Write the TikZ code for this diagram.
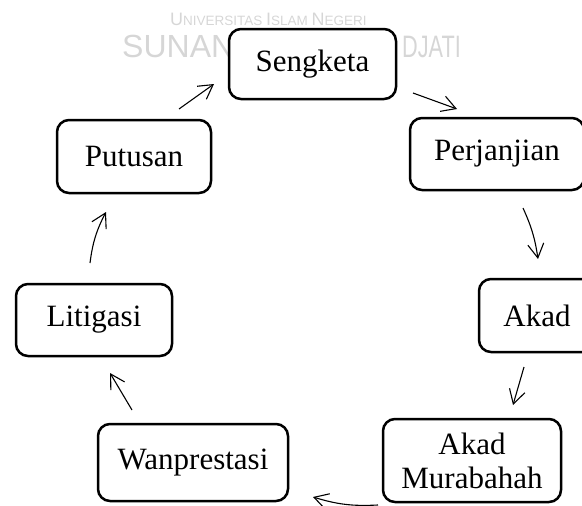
\documentclass[tikz,border=0pt]{standalone}
\usepackage{fontspec}
\setmainfont{Liberation Serif}
\newfontfamily\wmfont{Liberation Sans}
\usetikzlibrary{arrows.meta}
\begin{document}
\begin{tikzpicture}[x=1pt,y=-1pt,
  box/.style={draw, line width=2.5pt, rounded corners=12pt, fill=white, align=center,
    inner sep=0pt, font=\fontsize{31}{34}\selectfont},
  conn/.style={line width=1.1pt, -{Straight Barb[length=14pt,width=16pt,line width=1.1pt]}},
  wm/.style={text=gray!32, inner sep=0pt}]
\useasboundingbox (0,0) rectangle (582,506);
\clip (0,0) rectangle (582,506);
% watermark
\node[wm, anchor=base west] (wm1) at (170,25) {\wmfont\fontsize{18}{18}\selectfont U\fontsize{13.5}{13.5}\selectfont NIVERSITAS
  \fontsize{18}{18}\selectfont I\fontsize{13.5}{13.5}\selectfont SLAM
  \fontsize{18}{18}\selectfont N\fontsize{13.5}{13.5}\selectfont EGERI};
\node[wm, anchor=base west] (wm2) at (122,57) {\wmfont\fontsize{32}{32}\selectfont SUNAN};
\node[wm, anchor=base east] (wm3) at (461,57) {\wmfont\fontsize{31}{31}\selectfont\scalebox{0.7}[1]{DJATI}};
% boxes
\node[box, minimum width=167pt, minimum height=70pt] (sengketa) at (312.5,64) {Sengketa};
\node[box, minimum width=174pt, minimum height=72pt] (perjanjian) at (497,154) {Perjanjian};
\node[box, minimum width=116pt, minimum height=73pt] (akad) at (537,315.5) {Akad};
\node[box, minimum width=178pt, minimum height=83pt] (murabahah) at (472,460.5) {Akad\\Murabahah};
\node[box, minimum width=190pt, minimum height=77pt] (wanprestasi) at (193,462.5) {Wanprestasi};
\node[box, minimum width=156pt, minimum height=72pt] (litigasi) at (94,320) {Litigasi};
\node[box, minimum width=154pt, minimum height=73pt] (putusan) at (134,156.5) {Putusan};
% connector ends
\coordinate (a1s) at (413,93);  \coordinate (a1e) at (457,109);
\coordinate (a2s) at (523,208); \coordinate (a2e) at (538,259);
\coordinate (a3s) at (524,367); \coordinate (a3e) at (513,405);
\coordinate (a4s) at (378,505); \coordinate (a4e) at (313,497);
\coordinate (a5s) at (132,410); \coordinate (a5e) at (110,373);
\coordinate (a6s) at (90,263);  \coordinate (a6e) at (106,212);
\coordinate (a7s) at (179,109); \coordinate (a7e) at (214,84);
\draw[conn] (a1s) -- (a1e);
\draw[conn] (a2s) to[bend left=8] (a2e);
\draw[conn] (a3s) -- (a3e);
\draw[conn] (a4s) to[bend left=10] (a4e);
\draw[conn] (a5s) -- (a5e);
\draw[conn] (a6s) to[bend left=10] (a6e);
\draw[conn] (a7s) -- (a7e);
\end{tikzpicture}
\end{document}
